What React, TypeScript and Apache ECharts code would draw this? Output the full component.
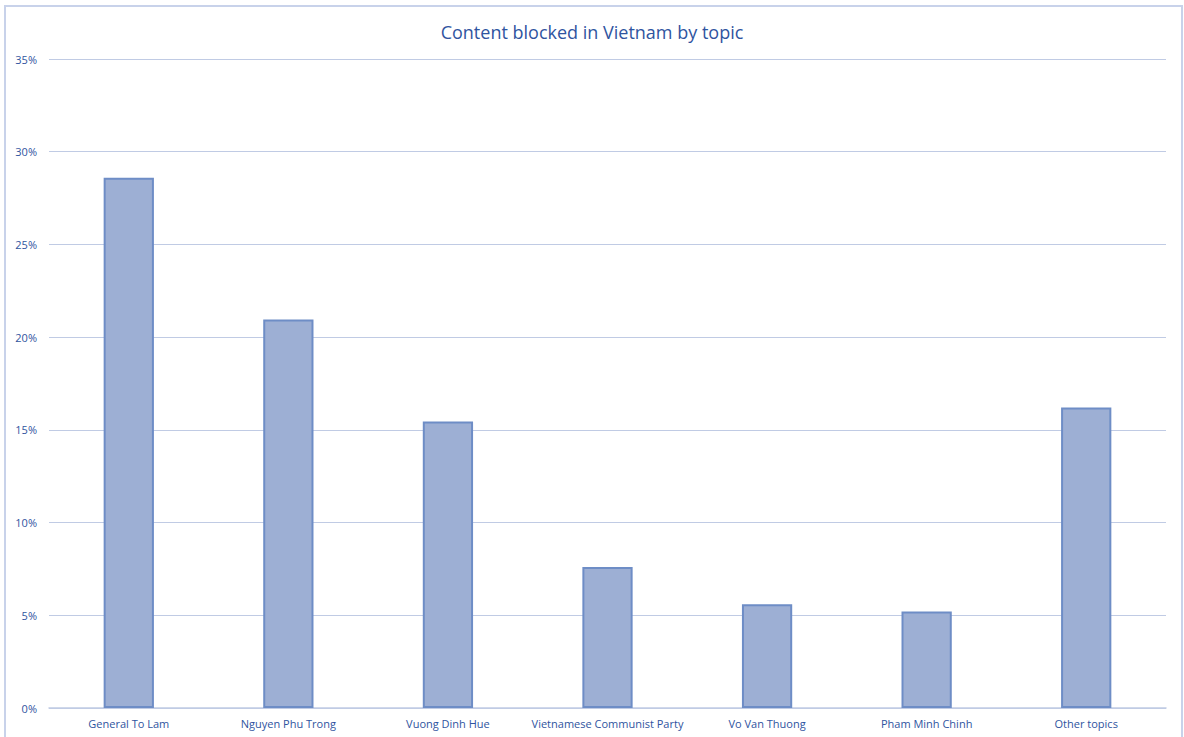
import React, { useEffect, useRef } from "react";
import * as echarts from "echarts";

const categories = [
  "General To Lam",
  "Nguyen Phu Trong",
  "Vuong Dinh Hue",
  "Vietnamese Communist Party",
  "Vo Van Thuong",
  "Pham Minh Chinh",
  "Other topics",
];
const values = [28.6, 20.95, 15.45, 7.6, 5.6, 5.2, 16.2];
const yTicks = { min: 0, max: 35, interval: 5 };

const textColor = "#2f54a0";

export default function App() {
  const ref = useRef<HTMLDivElement>(null);
  useEffect(() => {
    document.body.style.margin = "0";
    const chart = echarts.init(ref.current!, null, { renderer: "svg" });
    chart.setOption({
      animation: false,
      backgroundColor: "#ffffff",
      textStyle: { fontFamily: "Open Sans" },
      graphic: [
        {
          type: "rect",
          shape: { x: 5, y: 6, width: 1177, height: 745 },
          style: { fill: "none", stroke: "#c8d2ea", lineWidth: 2 },
          silent: true,
        },
      ],
      title: {
        text: "Content blocked in Vietnam by topic",
        left: "center",
        top: 18,
        textStyle: {
          color: textColor,
          fontSize: 18,
          fontWeight: "normal",
          fontFamily: "Open Sans",
        },
      },
      grid: { left: 49, right: 18, top: 59, bottom: 29, containLabel: false },
      xAxis: {
        type: "category",
        data: categories,
        axisLine: { show: true, lineStyle: { color: "#c0cbe4", width: 1.5 } },
        axisTick: { show: false },
        axisLabel: { color: textColor, fontSize: 11, margin: 10, interval: 0 },
      },
      yAxis: {
        type: "value",
        min: yTicks.min,
        max: yTicks.max,
        interval: yTicks.interval,
        axisLine: { show: false },
        axisTick: { show: false },
        axisLabel: {
          color: textColor,
          fontSize: 11,
          margin: 12,
          formatter: (v: number) => `${v}%`,
        },
        splitLine: { lineStyle: { color: "#c0cbe4", width: 1.2 } },
      },
      series: [
        {
          type: "bar",
          data: values,
          barWidth: "31.5%",
          itemStyle: {
            color: "#9dafd4",
            borderColor: "#6e8dc6",
            borderWidth: 2,
          },
        },
      ],
    });
    return () => chart.dispose();
  }, []);
  return <div ref={ref} style={{ width: 1184, height: 737 }} />;
}
